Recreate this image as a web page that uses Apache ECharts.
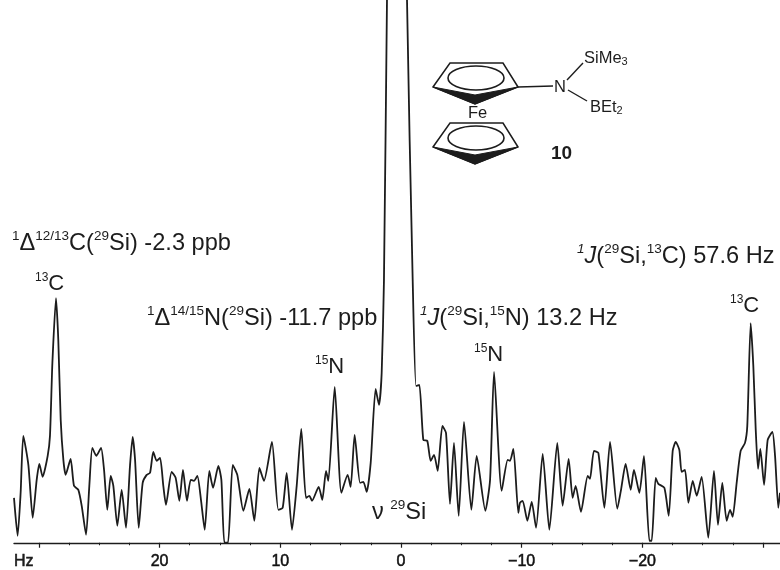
<!DOCTYPE html>
<html><head><meta charset="utf-8">
<style>html,body{margin:0;background:#fff}#c{width:780px;height:570px}</style>
<script src="https://cdn.jsdelivr.net/npm/echarts@6/dist/echarts.min.js"></script>
</head><body><div id="c"></div>
<script>
const hz = [32.06,31.76,31.51,31.29,30.87,30.51,30.18,29.96,29.69,29.27,29.08,28.88,28.58,28.39,28.19,27.97,27.78,27.37,27.09,26.73,26.45,26.09,25.82,25.57,25.24,24.85,24.60,24.33,24.05,23.83,23.50,23.14,22.78,22.45,22.23,22.03,21.73,21.40,21.07,20.79,20.52,20.24,19.96,19.69,19.47,19.00,18.67,18.36,18.06,17.73,17.42,17.15,16.87,16.57,16.26,15.88,15.57,15.13,14.88,14.63,14.33,13.94,13.56,13.06,12.56,12.15,11.73,
11.35,10.69,10.16,9.80,9.47,9.03,8.64,8.26,7.87,7.59,7.37,6.82,6.52,6.21,6.02,5.49,4.94,4.42,4.17,3.84,3.39,3.12,2.84,2.51,2.10,1.82,1.60,1.41,1.16,0.33,-0.50,
-0.97,-1.25,-1.52,-1.85,-2.18,-2.46,-2.74,-3.04,-3.43,-3.73,-4.06,-4.39,-4.78,-5.22,-5.83,-6.27,-6.99,-7.38,-7.71,-8.34,-8.84,-9.03,-9.31,-9.72,
-9.86,-10.08,-10.47,-10.83,-11.19,-11.74,-12.29,-12.95,-13.39,-13.89,-14.22,-14.47,-14.91,-15.47,-15.66,-15.99,-16.35,-16.85,-17.32,-17.92,-18.23,-18.61,-19.03,-19.30,-19.75,-20.13,-20.58,-20.77,-21.10,-21.32,-21.82,-22.18,-22.51,-22.76,-23.06,-23.25,-23.53,-23.81,-24.17,-24.50,-24.91,-25.46,-25.93,-26.26,-26.62,-26.98,-27.26,-27.48,-27.81,-28.14,-28.50,-28.69,-28.97,-29.19,-29.39,-29.58,-29.77,-30.08,-30.38,-30.77,-30.99,-31.26,-31.40];
const intensity = [45,7,50,107,78,25,63,79,66,87,107,180,245,203,123,83,68,84,57,53,37,8,57,95,87,95,73,33,67,57,17,53,15,77,106,83,15,60,68,70,91,82,85,57,38,71,65,42,73,42,63,62,67,43,13,72,55,77,63,0,0,78,68,32,54,22,75,
62,101,33,35,70,13,57,114,45,47,42,56,43,72,62,156,50,68,56,108,60,61,51,80,154,138,170,263,543,1400,543,
263,157,158,103,102,82,88,72,117,110,39,100,27,121,33,87,32,63,171,52,83,82,94,30,
40,42,22,41,15,89,13,100,37,84,45,57,31,67,64,92,90,35,101,34,53,79,53,73,50,87,2,2,65,59,55,27,92,101,93,71,73,40,62,47,66,5,72,18,60,22,33,26,60,92,100,117,220,177,113,74,94,58,103,111,87,35,50];
const majorTicks = [30,20,10,0,-10,-20,-30];
const minorTicks = [27.5,25,22.5,17.5,15,12.5,7.5,5,2.5,-2.5,-5,-7.5,-12.5,-15,-17.5,-22.5,-25,-27.5];
const labelledTicks = [20,10,0,-10,-20];

const ink = '#1c1c1c', F = '"Liberation Sans", Arial, sans-serif';
const rich = {
  sup:{fontSize:13.5,fontFamily:F,color:ink,verticalAlign:'top',lineHeight:27},
  supi:{fontSize:13.5,fontFamily:F,fontStyle:'italic',color:ink,verticalAlign:'top',lineHeight:27},
  n:{fontSize:23.6,fontFamily:F,color:ink,lineHeight:27},
  i:{fontSize:23.6,fontFamily:F,fontStyle:'italic',color:ink,lineHeight:27},
  bs:{fontSize:12,fontFamily:F,color:ink,verticalAlign:'top',lineHeight:24},
  big:{fontSize:22,fontFamily:F,color:ink,lineHeight:24},
  sub:{fontSize:11,fontFamily:F,color:ink,verticalAlign:'bottom',lineHeight:19},
  s:{fontSize:16.5,fontFamily:F,color:ink,lineHeight:19}
};
function T(x,y,text,extra){return {type:'text',x:x,y:y,silent:true,style:Object.assign({text:text,rich:rich,fill:ink,font:'23px '+F,verticalAlign:'middle',align:'left'},extra||{})};}
function poly(pts,fill,lw){return {type:'polygon',silent:true,shape:{points:pts},style:{fill:fill,stroke:ink,lineWidth:lw}};}
function line(a,b,c,d,lw){return {type:'line',silent:true,shape:{x1:a,y1:b,x2:c,y2:d},style:{stroke:ink,lineWidth:lw||1.4}};}
function ell(cx,cy){return {type:'ellipse',silent:true,shape:{cx:cx,cy:cy,rx:28,ry:12},style:{fill:'none',stroke:ink,lineWidth:1.6}};}
function cp(dy){return [
  poly([[450,63+dy],[503,63+dy],[518,87+dy],[475,104+dy],[433,87+dy]],'#fff',1.5),
  poly([[433,87+dy],[475,95+dy],[518,87+dy],[475,104+dy]],ink,1),
  ell(476,78+dy)
];}
const graphics = [].concat(cp(0),cp(60),[
  line(518,87,553,86),line(567,80,583,63),line(568,90,587,101),
  T(554,87,'{s|N}'),T(584,58,'{s|SiMe}{sub|3}'),T(590,107,'{s|BEt}{sub|2}'),
  T(468,113,'{s|Fe}'),
  T(551,154,'10',{font:'bold 19px '+F}),
  T(12,243,'{sup|1}{n|Δ}{sup|12/13}{n|C(}{sup|29}{n|Si) -2.3 ppb}'),
  T(147,318,'{sup|1}{n|Δ}{sup|14/15}{n|N(}{sup|29}{n|Si) -11.7 ppb}'),
  T(420,318,'{supi|1}{i|J}{n|(}{sup|29}{n|Si,}{sup|15}{n|N) 13.2 Hz}'),
  T(577,256,'{supi|1}{i|J}{n|(}{sup|29}{n|Si,}{sup|13}{n|C) 57.6 Hz}'),
  T(35,284,'{bs|13}{big|C}'),T(730,306,'{bs|13}{big|C}'),
  T(315,367,'{bs|15}{big|N}'),T(474,355,'{bs|15}{big|N}'),
  T(372,512,'{n|ν }{sup|29}{n|Si}'),
  T(14,562,'Hz',{font:'16px '+F,stroke:'#111',lineWidth:0.5})
]);

echarts.init(document.getElementById('c'),null,{renderer:'canvas'}).setOption({
  backgroundColor:'#fff',animation:false,
  grid:{left:14,right:0,top:0,bottom:26.5},
  xAxis:[{
    type:'value',inverse:true,min:-31.4,max:32.06,
    splitLine:{show:false},
    axisLine:{show:true,onZero:false,lineStyle:{color:ink,width:1.4}},
    axisTick:{show:true,length:5,customValues:majorTicks,lineStyle:{color:ink,width:1.2}},
    axisLabel:{show:true,customValues:labelledTicks,margin:11,color:'#111',fontSize:16,fontFamily:F,
      textBorderColor:'#111',textBorderWidth:0.5,
      formatter:v=>String(v).replace('-','−')}
  },{
    type:'value',inverse:true,min:-31.4,max:32.06,position:'bottom',
    splitLine:{show:false},axisLine:{show:false},
    axisTick:{show:true,length:2.5,customValues:minorTicks,lineStyle:{color:ink,width:1}},
    axisLabel:{show:false}
  }],
  yAxis:{type:'value',min:0,max:543.5,show:false},
  series:[{
    type:'line',xAxisIndex:0,data:hz.map((h,k)=>[h,intensity[k]]),
    showSymbol:false,smooth:0.2,clip:true,
    lineStyle:{color:ink,width:1.8},silent:true
  }],
  graphic:graphics
});
</script></body></html>
